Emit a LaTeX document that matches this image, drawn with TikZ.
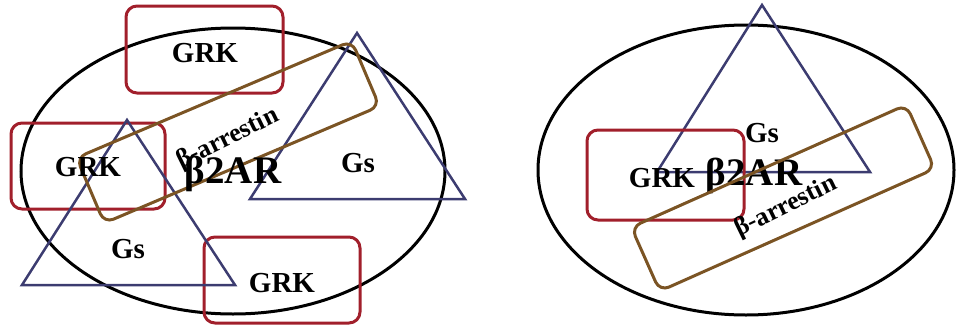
\documentclass[tikz,border=0pt]{standalone}
\usepackage{fontspec}
\setmainfont{Liberation Serif}
\definecolor{grkred}{HTML}{A11F2B}
\definecolor{arrbrown}{HTML}{7B5424}
\definecolor{gsblue}{HTML}{3C3C70}
\begin{document}
\begin{tikzpicture}[x=1pt,y=-1pt,
  cell/.style={draw=black,line width=3pt},
  grkbox/.style={draw=grkred,line width=3pt,rounded corners=11pt},
  arrbox/.style={draw=arrbrown,line width=3pt,rounded corners=10pt,inner sep=0pt},
  gstri/.style={draw=gsblue,line width=2.5pt},
  lbl/.style={inner sep=0pt,font=\bfseries\fontsize{29}{29}\selectfont},
  biglbl/.style={inner sep=0pt,font=\bfseries\fontsize{39}{39}\selectfont},
  arrlbl/.style={inner sep=0pt,font=\bfseries\fontsize{26}{26}\selectfont}]
\useasboundingbox (0,0) rectangle (956,327);
% ---------- left panel ----------
\draw[cell] (233,171) ellipse [x radius=212, y radius=143];
\draw[grkbox] (126,6) rectangle (283,93);
\draw[grkbox] (11,123) rectangle (165,209);
\draw[grkbox] (204,237) rectangle (360,323);
\draw[gstri] (127,120) -- (22,285) -- (235,285) -- cycle;
\draw[gstri] (357,33) -- (250,199) -- (465,199) -- cycle;
\node[arrbox,minimum width=299pt,minimum height=71pt,rotate=23] (arrL) at (228,132) {};
\node[lbl] (grkA) at (205,53) {GRK};
\node[lbl] (grkB) at (88,167) {GRK};
\node[lbl] (grkC) at (282,283) {GRK};
\node[lbl] (gsA) at (128,249) {Gs};
\node[lbl] (gsB) at (358,163) {Gs};
\node[biglbl] (barL) at (233,174) {β2AR};
\node[arrlbl,rotate=26] (arrtL) at (228,139) {β-arrestin};
% ---------- right panel ----------
\draw[cell] (746,170) ellipse [x radius=208, y radius=145];
\draw[gstri] (762,5) -- (657,172) -- (870,172) -- cycle;
\draw[grkbox] (587,130) rectangle (744,220);
\node[lbl] (gsR) at (762,133) {Gs};
\node[lbl] (grkR) at (662,178) {GRK};
\node[biglbl] (barR) at (754,176) {β2AR};
\node[arrlbl,rotate=26] (arrtR) at (786,207) {β-arrestin};
\node[arrbox,minimum width=301pt,minimum height=70pt,rotate=24] (arrR) at (783,198) {};
\end{tikzpicture}
\end{document}
